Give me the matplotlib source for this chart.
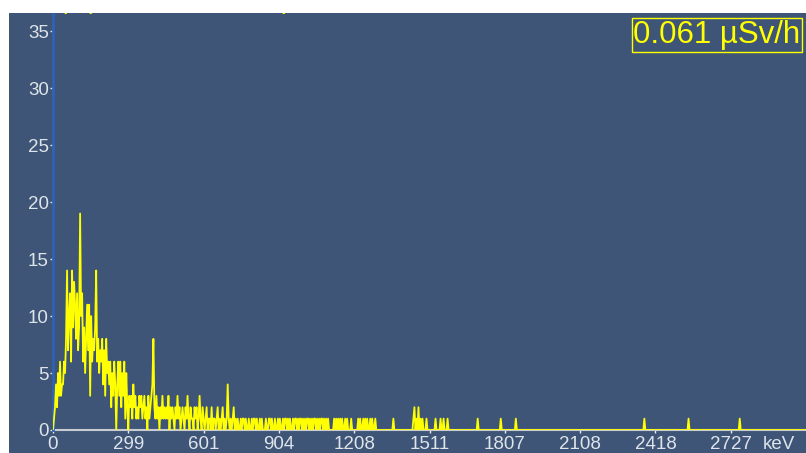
import numpy as np
import matplotlib
matplotlib.use('Agg')
import matplotlib.pyplot as plt
from matplotlib.patches import Rectangle

# spectrum counts, one value per channel (dense low-energy part)
dense_counts = [
    0, 1, 2, 4, 2, 5, 3,
    6, 3, 4, 4, 6, 5, 8,
    14, 7, 10, 12, 6, 14, 9,
    13, 11, 8, 12, 7, 9, 19,
    10, 12, 6, 9, 5, 8, 11,
    7, 11, 3, 10, 6, 8, 7,
    9, 14, 6, 8, 5, 7, 6,
    8, 4, 7, 3, 8, 5, 6,
    4, 6, 2, 5, 3, 6, 4,
    0, 4, 6, 3, 6, 2, 5, 3, 6, 1, 5, 2, 0, 3,
    2, 3, 1, 4, 2, 3, 1,
    2, 1, 3, 2, 3, 1, 2,
    3, 1, 2, 0, 3, 1, 2,
    3, 4, 8, 2, 1, 3, 1,
    2, 0, 2, 1, 3, 1, 2,
    1, 2, 1, 3, 0, 2, 1,
    2, 1, 0, 2, 1, 3, 1,
    2, 0, 1, 2, 1, 0, 2,
    1, 3, 1, 0, 2, 1, 1,
    0, 2, 1, 2, 0, 1, 3,
    1, 0, 2, 1, 0, 1, 2,
    0, 1, 1, 0, 2, 0, 1,
    1, 0, 1, 2, 0, 1, 0,
    1, 2, 0, 1, 0, 1, 4,
    1, 0, 1, 0, 1, 2, 0,
    1, 0, 1, 0, 0, 1, 0,
    1, 1, 0, 1, 0, 0, 1,
    0, 0, 1, 0, 1, 1, 0,
    1, 0, 0, 1, 0, 1, 0,
    0, 0, 1, 0, 0, 1, 1,
    0, 1, 0, 0, 1, 0, 0,
    1, 0, 1, 0, 0, 1, 0,
    1, 1, 0, 1, 0, 1, 0,
]

# isolated non-zero channels at higher energy
sparse_ch = [239, 241, 242, 244, 246, 247, 249, 251, 253, 254, 256, 258, 260,
             261, 263, 265, 267, 268, 270, 272, 274,
             280, 282, 284, 286, 288, 291, 293, 297,
             304, 306, 309, 311, 313, 316, 318, 321,
             339, 359, 360, 362, 364, 366, 368, 372,
             381, 386, 389, 393, 423, 446, 461, 589, 633, 684]
sparse_val = [1, 1, 1, 1, 1, 1, 1, 1, 1, 1, 1, 1, 1,
              1, 1, 1, 1, 1, 1, 1, 1,
              1, 1, 1, 1, 1, 1, 1, 1,
              1, 1, 1, 1, 1, 1, 1, 1,
              1, 1, 2, 1, 2, 1, 1, 1,
              1, 1, 1, 1, 1, 1, 1, 1, 1, 1]

n_channels = 751
tick_ch = [0, 75, 150, 225, 300, 375, 450, 525, 600, 675]
tick_kev = ['0', '299', '601', '904', '1208', '1511', '1807', '2108', '2418', '2727']
dose_text = '0.061 µSv/h'

counts = np.zeros(n_channels)
counts[:len(dense_counts)] = dense_counts
counts[sparse_ch] = sparse_val
ch = np.arange(n_channels)

bg = '#3e5577'
yel = '#ffff00'
lab = '#dfe4ea'
plt.rcParams['font.family'] = ['Liberation Sans', 'DejaVu Sans']

W, H = 806, 453
fig = plt.figure(figsize=(W / 100, H / 100), dpi=100, facecolor=bg)
ax = fig.add_axes([53 / W, 23 / H, (W - 53) / W, (430 - 13) / H])
ax.set_facecolor(bg)
ax.plot(ch, counts, color=yel, lw=1.3, zorder=3)
ax.set_xlim(0, 750)
ax.set_ylim(0, 36.6)

ax.set_xticks(tick_ch)
ax.set_xticklabels(tick_kev)
ax.set_yticks(range(0, 36, 5))
ax.tick_params(axis='x', colors='#e8ecf0', labelsize=13.5, length=2, width=1, pad=2.5)
ax.tick_params(axis='y', colors=lab, labelsize=13.5, length=2.5, width=1, pad=0.5)
for t in ax.get_xticklabels() + ax.get_yticklabels():
    t.set_color(lab)

for s in ['top', 'right']:
    ax.spines[s].set_visible(False)
ax.spines['left'].set_color('#2f63b8')
ax.spines['left'].set_linewidth(2)
ax.spines['bottom'].set_color('#c9ccd0')
ax.spines['bottom'].set_linewidth(1.5)
ax.spines['bottom'].set_zorder(2)

fig.text(763 / W, 1 - 449 / H, 'keV', color=lab, fontsize=13.5, ha='left', va='baseline')

# dose rate box
fig.text(717 / W, 1 - 35 / H, dose_text, color=yel, fontsize=22.5, ha='center', va='center',
         bbox=dict(boxstyle='square,pad=0.06', facecolor=bg, edgecolor=yel, linewidth=1))

# clipped title fragments at the very top
for xp, s in [(58, '('), (89, ')'), (280, 'p')]:
    fig.text(xp / W, 1 - 9 / H, s, color=yel, fontsize=18, va='baseline', zorder=5)

fig.patches.append(Rectangle((0, 1 - 13 / H), 1, 13 / H, transform=fig.transFigure,
                             facecolor='white', edgecolor='none', zorder=10))
fig.patches.append(Rectangle((0, 0), 9 / W, 1, transform=fig.transFigure,
                             facecolor='white', edgecolor='none', zorder=10))

fig.savefig('out.png', dpi=100, facecolor=bg)
